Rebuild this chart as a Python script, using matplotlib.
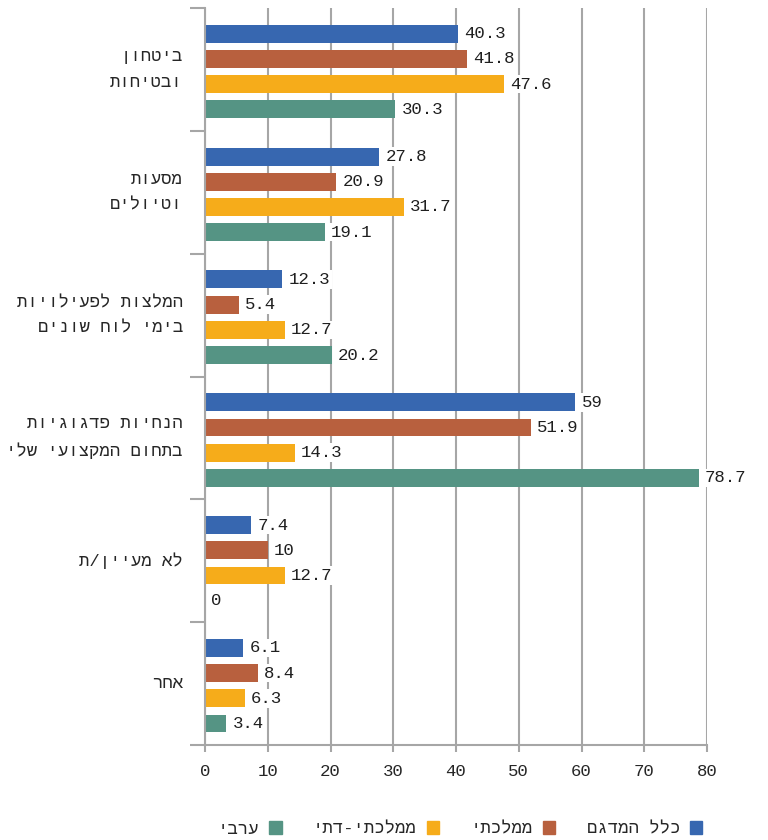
import matplotlib
matplotlib.use("Agg")
import matplotlib.pyplot as plt
import numpy as np
from matplotlib.patches import Patch

plt.rcParams['font.family'] = ['Liberation Mono', 'DejaVu Sans Mono', 'DejaVu Sans']

categories = ['ביטחון\nובטיחות', 'מסעות\nוטיולים', 'המלצות לפעילויות\nבימי לוח שונים',
              'הנחיות פדגוגיות\nבתחום המקצועי שלי', 'לא מעיין/ת', 'אחר']
series_names = ['כלל המדגם', 'ממלכתי', 'ממלכתי-דתי', 'ערבי']
all_sample = [40.3, 27.8, 12.3, 59, 7.4, 6.1]
mamlachti = [41.8, 20.9, 5.4, 51.9, 10, 8.4]
mamlachti_dati = [47.6, 31.7, 12.7, 14.3, 12.7, 6.3]
aravi = [30.3, 19.1, 20.2, 78.7, 0, 3.4]
x_ticks = [0, 10, 20, 30, 40, 50, 60, 70, 80]

colors = ['#3767B0', '#B8603E', '#F6AC1A', '#559484']
series = [all_sample, mamlachti, mamlachti_dati, aravi]


def rtl(s):
    return '\n'.join(line[::-1] for line in s.split('\n'))


fig = plt.figure(figsize=(7.68, 8.4), dpi=100)
ax = fig.add_axes([205 / 768, 1 - 745 / 840, 502 / 768, 737 / 840])

y = np.arange(len(categories))
offsets = [-0.29, -0.085, 0.12, 0.325]
bh = 0.146
for vals, col, off in zip(series, colors, offsets):
    ax.barh(y + off, vals, height=bh, color=col, zorder=2)
    for yy, v in zip(y + off, vals):
        ax.annotate(f'{v:g}', xy=(v, yy), xytext=(4.5, 0), textcoords='offset points',
                    ha='left', va='center', fontsize=12.5, color='#1f1f1f',
                    bbox=dict(boxstyle='square,pad=0.1', fc='white', ec='none'), zorder=3)

ax.set_xlim(0, 80)
ax.set_ylim(5.5, -0.5)
ax.set_xticks(x_ticks)
ax.set_xticklabels([str(t) for t in x_ticks], fontsize=12.5, color='#262626')
ax.xaxis.grid(True, color='#A6A6A6', linewidth=1.5, zorder=0)
ax.set_axisbelow(True)

ax.set_yticks(y)
ax.set_yticklabels([rtl(c) for c in categories], fontsize=12.5, color='#262626', linespacing=1.85,
                   va='center')
ax.tick_params(axis='y', which='major', length=0, pad=16)
ax.set_yticks(np.arange(-0.5, 6.0, 1.0), minor=True)
ax.tick_params(axis='y', which='minor', length=11, width=1.5, color='#A6A6A6')
ax.tick_params(axis='x', which='major', length=5, width=1.5, color='#A6A6A6', pad=9)

for s in ['top', 'right']:
    ax.spines[s].set_visible(False)
for s in ['left', 'bottom']:
    ax.spines[s].set_color('#A6A6A6')
    ax.spines[s].set_linewidth(1.5)

handles = [Patch(color=c, label=rtl(n)) for c, n in zip(colors, series_names)]
handles = handles[::-1]
fig.legend(handles=handles, loc='center', bbox_to_anchor=(460 / 768, 1 - 829 / 840),
           ncol=4, frameon=False, markerfirst=False, fontsize=12.5,
           handlelength=0.7, handleheight=0.7, columnspacing=1.8, handletextpad=0.6,
           labelcolor='#262626')

fig.savefig('out.png', dpi=100)
